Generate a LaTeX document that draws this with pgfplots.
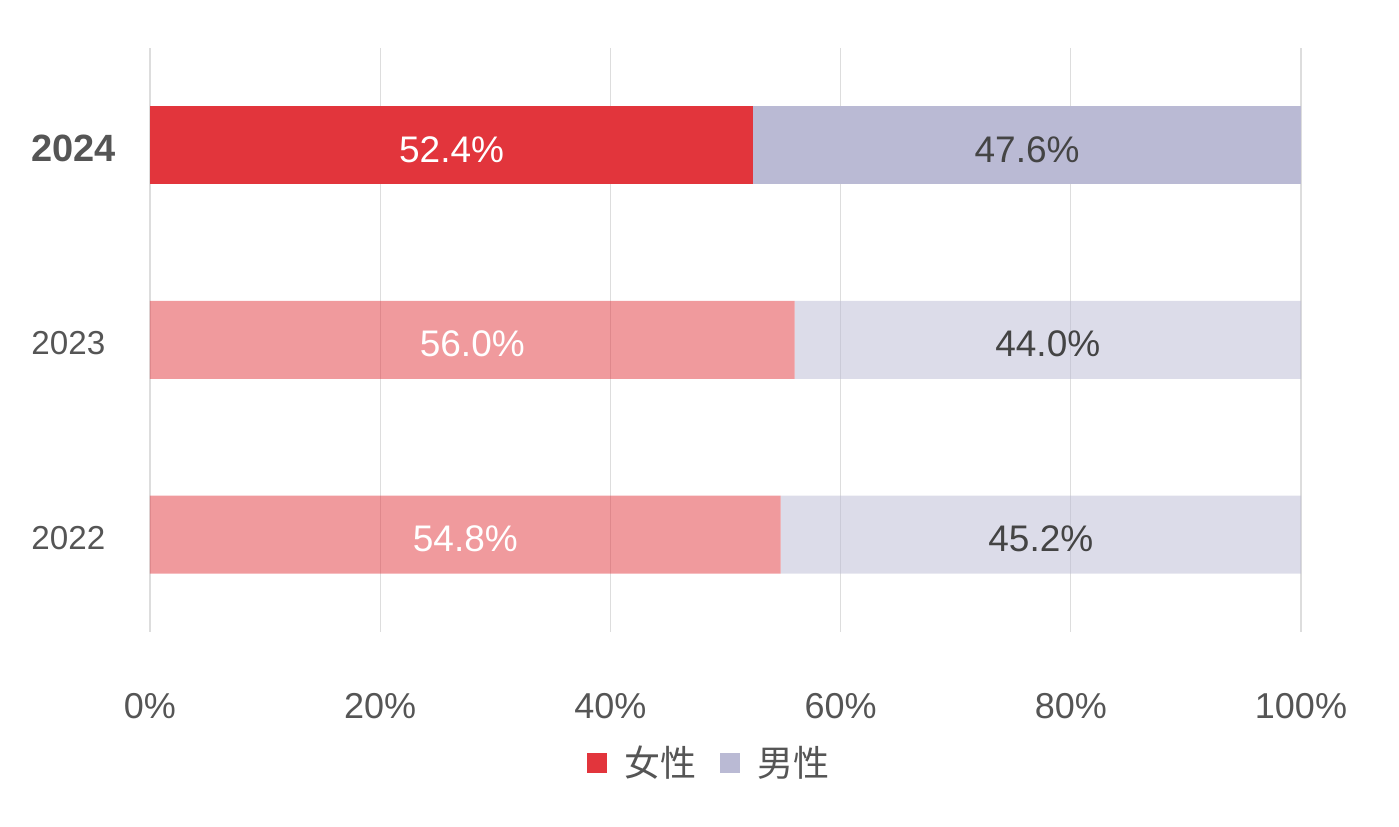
\documentclass[border=0pt]{standalone}
\usepackage{pgfplots}
\pgfplotsset{compat=1.18}
\usepackage{fontspec}
\setmainfont{Liberation Sans}
\newfontfamily\cjk{Noto Sans CJK SC}
\definecolor{cred}{RGB}{226,53,60}
\definecolor{clav}{RGB}{186,186,212}
\definecolor{tgray}{RGB}{85,85,85}
\definecolor{tdark}{RGB}{68,68,68}
\definecolor{gridc}{RGB}{221,221,221}
\begin{document}
\begin{tikzpicture}
\pgfplotsset{
  base/.style={
    scale only axis, width=575.5pt, height=292pt,
    xmin=0, xmax=100, ymin=-0.5, ymax=2.5,
    at={(0,0)}, anchor=south west,
  }
}
\begin{axis}[base, name=ax,
  xbar stacked, bar width=39pt,
  axis line style={draw=none}, major tick length=0pt,
  xmajorgrids, grid style={gridc, line width=0.6pt},
  xtick={0,20,40,60,80,100},
  xticklabels={0\%,20\%,40\%,60\%,80\%,100\%},
  xticklabel style={anchor=base, yshift=-43.5pt, text=tgray, font=\fontsize{18}{18}\selectfont},
  ytick={0,1,2},
  yticklabels={2022,2023,{\fontsize{19}{19}\selectfont\bfseries 2024}},
  yticklabel style={anchor=west, inner sep=0pt, xshift=-59.5pt, yshift=-1.5pt, text=tgray, font=\fontsize{16.6}{16.6}\selectfont},
  legend columns=2,
  legend image code/.code={\fill[#1] (0pt,-5pt) rectangle (10pt,5pt); \path (0pt,0pt) (19pt,0pt);},
  legend style={at={(0.485,0)}, anchor=center, yshift=-65.5pt, draw=none,
    inner sep=0pt, nodes={inner sep=0pt, text=tgray},
    font=\cjk\fontsize{18}{18}\selectfont,
    /tikz/every even column/.append style={column sep=11.5pt}},
]
% female, current year (opaque)
\addplot[fill=cred, draw=none] coordinates {(0,0) (0,1) (52.4,2)};
\addlegendentry{女性}
% female, earlier years (faded)
\addplot[fill=cred, fill opacity=0.5, draw=none, forget plot] coordinates {(54.8,0) (56.0,1) (0,2)};
% male, current year (opaque)
\addplot[fill=clav, draw=none] coordinates {(0,0) (0,1) (47.6,2)};
\addlegendentry{男性}
% male, earlier years (faded)
\addplot[fill=clav, fill opacity=0.5, draw=none, forget plot] coordinates {(45.2,0) (44.0,1) (0,2)};
\end{axis}
\begin{axis}[base, hide axis]
\addplot[only marks, mark=none, nodes near coords, point meta=explicit symbolic,
  nodes near coords style={anchor=center, yshift=-2pt, text=white, font=\fontsize{18.5}{18.5}\selectfont}]
  coordinates {(27.4,0) [54.8\%] (28.0,1) [56.0\%] (26.2,2) [52.4\%]};
\addplot[only marks, mark=none, nodes near coords, point meta=explicit symbolic,
  nodes near coords style={anchor=center, yshift=-2pt, text=tdark, font=\fontsize{18.5}{18.5}\selectfont}]
  coordinates {(77.4,0) [45.2\%] (78.0,1) [44.0\%] (76.2,2) [47.6\%]};
\end{axis}
\pgfresetboundingbox
\path ([xshift=-75pt,yshift=-97.5pt]ax.south west) rectangle ([xshift=49pt,yshift=24pt]ax.north east);
\end{tikzpicture}
\end{document}
